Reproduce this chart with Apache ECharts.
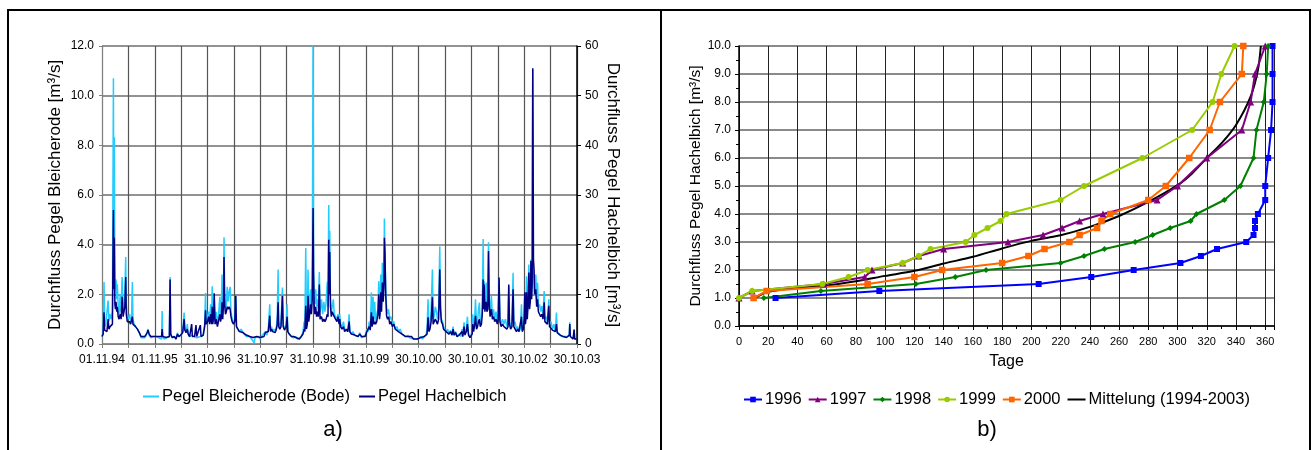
<!DOCTYPE html>
<html>
<head>
<meta charset="utf-8">
<title>Durchfluss Bleicherode / Hachelbich</title>
<script src="https://cdn.jsdelivr.net/npm/echarts@6/dist/echarts.min.js"></script>
<style>
  html, body { margin: 0; padding: 0; background: #fff; }
  #chart { width: 1314px; height: 450px; }
</style>
</head>
<body>
<div id="chart"></div>
<script>
// a) daily discharge, x = days since 01.11.1994
const dateLabels = ['01.11.94', '01.11.95', '31.10.96', '31.10.97', '31.10.98',
  '31.10.99', '30.10.00', '30.10.01', '30.10.02', '30.10.03'];

const days = [
  0, 8, 14, 18, 26, 34, 42, 48, 56, 64,
  72, 79, 82, 85, 89, 93, 97, 102, 106, 112,
  118, 126, 132, 139, 146, 152, 158, 164, 168, 175,
  182, 190, 198, 204, 210, 214, 222, 232, 245, 258,
  270, 282, 295, 306, 313, 319, 326, 338, 352, 365,
  378, 392, 405, 412, 416, 420, 430, 445, 458, 466,
  471, 475, 485, 500, 512, 522, 530, 545, 558, 568,
  573, 582, 590, 596, 606, 620, 625, 640, 650, 655,
  668, 680, 685, 700, 710, 716, 720, 730, 738, 744,
  752, 758, 762, 766, 772, 776, 782, 790, 798, 805,
  815, 820, 826, 830, 835, 840, 844, 848, 854, 860,
  866, 872, 879, 886, 892, 900, 910, 918, 925, 930,
  940, 950, 962, 975, 988, 998, 1010, 1022, 1035, 1045,
  1052, 1058, 1070, 1082, 1095, 1108, 1120, 1130, 1140, 1150,
  1160, 1165, 1172, 1180, 1190, 1198, 1206, 1212, 1218, 1222,
  1230, 1238, 1248, 1253, 1262, 1274, 1280, 1285, 1295, 1310,
  1325, 1340, 1352, 1365, 1378, 1390, 1398, 1403, 1409, 1414,
  1420, 1425, 1430, 1436, 1442, 1448, 1454, 1460, 1463, 1467,
  1472, 1478, 1484, 1490, 1496, 1503, 1508, 1518, 1526, 1534,
  1542, 1550, 1558, 1563, 1568, 1572, 1575, 1580, 1586, 1592,
  1600, 1606, 1615, 1625, 1632, 1640, 1644, 1650, 1660, 1670,
  1678, 1690, 1700, 1709, 1714, 1725, 1735, 1748, 1760, 1771,
  1782, 1795, 1808, 1820, 1832, 1840, 1848, 1855, 1863, 1868,
  1875, 1880, 1886, 1892, 1900, 1908, 1914, 1919, 1923, 1928,
  1933, 1939, 1945, 1950, 1953, 1957, 1962, 1968, 1975, 1982,
  1990, 1998, 2008, 2018, 2028, 2040, 2050, 2062, 2075, 2088,
  2100, 2115, 2128, 2140, 2155, 2168, 2180, 2192, 2205, 2215,
  2228, 2240, 2248, 2255, 2260, 2268, 2276, 2285, 2290, 2297,
  2305, 2313, 2320, 2328, 2336, 2341, 2347, 2355, 2362, 2370,
  2380, 2390, 2400, 2410, 2420, 2428, 2435, 2445, 2455, 2470,
  2482, 2490, 2495, 2504, 2510, 2520, 2527, 2535, 2545, 2552,
  2560, 2564, 2570, 2578, 2583, 2590, 2597, 2604, 2610, 2616,
  2624, 2630, 2636, 2640, 2643, 2648, 2657, 2662, 2668, 2673,
  2678, 2684, 2693, 2700, 2708, 2716, 2725, 2734, 2740, 2746,
  2752, 2760, 2770, 2780, 2790, 2800, 2808, 2813, 2818, 2826,
  2835, 2843, 2848, 2856, 2866, 2875, 2884, 2893, 2901, 2906,
  2914, 2920, 2924, 2928, 2932, 2936, 2941, 2946, 2952, 2957,
  2962, 2966, 2971, 2975, 2979, 2981, 2984, 2988, 2992, 3000,
  3006, 3012, 3018, 3026, 3034, 3042, 3050, 3058, 3063, 3072,
  3080, 3090, 3095, 3105, 3115, 3125, 3135, 3143, 3148, 3158,
  3170, 3180, 3190, 3200, 3212, 3224, 3232, 3235, 3239, 3248,
  3258, 3265, 3269, 3278, 3285
];

// Pegel Bleicherode (Bode), m³/s, left axis
const bleicherode = [
  0.30, 0.45, 2.50, 0.70, 0.80, 0.75, 1.75, 0.90, 1.20, 1.00,
  1.30, 10.70, 3.00, 8.33, 2.60, 2.20, 2.60, 1.80, 2.40, 1.50,
  1.20, 2.00, 1.30, 2.70, 1.40, 1.60, 2.00, 3.50, 1.60, 1.10,
  1.00, 1.20, 0.90, 1.00, 2.50, 1.00, 0.80, 0.70, 0.60, 0.45,
  0.25, 0.20, 0.25, 0.35, 0.50, 0.60, 0.35, 0.25, 0.30, 0.25,
  0.30, 0.25, 0.30, 0.20, 1.33, 0.30, 0.20, 0.25, 0.20, 0.30,
  2.70, 0.40, 0.25, 0.30, 0.20, 0.45, 0.30, 0.35, 0.50, 1.27,
  0.60, 0.45, 0.80, 0.40, 0.30, 0.35, 0.30, 0.30, 0.30, 0.25,
  0.30, 0.30, 0.30, 0.35, 0.80, 2.05, 0.90, 1.10, 1.30, 1.00,
  1.60, 0.90, 2.33, 1.00, 1.30, 1.80, 0.90, 1.30, 0.80, 1.10,
  1.90, 1.00, 1.40, 2.80, 1.20, 2.00, 4.30, 2.00, 1.40, 1.60,
  2.30, 1.70, 2.10, 2.30, 1.30, 1.00, 0.80, 1.00, 1.96, 0.70,
  0.60, 0.50, 0.60, 0.45, 0.50, 0.30, 0.25, 0.30, 0.20, 0.25,
  0.05, 0.25, 0.20, 0.30, 0.20, 0.35, 0.30, 0.50, 0.35, 0.60,
  1.60, 0.60, 0.70, 0.50, 0.60, 0.50, 0.70, 1.10, 3.00, 0.90,
  0.70, 0.90, 2.27, 0.80, 0.60, 0.80, 1.60, 0.50, 0.40, 0.30,
  0.25, 0.30, 0.20, 0.25, 0.30, 0.50, 0.90, 0.60, 3.87, 0.80,
  1.00, 3.00, 1.20, 1.50, 2.20, 1.60, 2.40, 13.00, 2.90, 2.00,
  1.60, 2.20, 1.50, 1.80, 1.40, 2.90, 1.30, 1.80, 1.20, 1.70,
  1.30, 1.70, 2.50, 1.50, 5.60, 2.50, 4.56, 1.80, 1.30, 1.50,
  1.80, 1.20, 1.20, 1.00, 1.20, 0.90, 1.20, 0.80, 0.70, 0.90,
  0.60, 0.60, 0.50, 1.20, 0.50, 0.40, 0.50, 0.35, 0.40, 0.30,
  0.45, 0.25, 0.30, 0.35, 0.60, 0.50, 0.90, 0.60, 2.07, 0.90,
  1.90, 1.00, 1.70, 0.90, 1.20, 1.40, 2.53, 1.30, 1.60, 2.80,
  1.60, 3.27, 2.00, 2.80, 5.05, 3.60, 2.20, 1.50, 1.20, 1.40,
  1.00, 1.10, 0.80, 0.90, 0.60, 0.70, 0.50, 0.60, 0.40, 0.45,
  0.30, 0.35, 0.25, 0.30, 0.20, 0.25, 0.20, 0.25, 0.30, 0.20,
  0.25, 0.35, 0.60, 1.80, 0.70, 0.80, 1.30, 3.00, 1.00, 1.10,
  1.50, 1.30, 1.00, 1.40, 3.93, 1.60, 1.00, 0.90, 0.70, 0.60,
  0.50, 0.60, 0.40, 0.55, 0.35, 0.70, 0.35, 0.50, 0.30, 0.40,
  0.30, 0.60, 0.35, 0.87, 0.40, 0.60, 1.10, 0.40, 0.25, 0.20,
  0.50, 1.20, 0.60, 1.10, 1.80, 0.80, 0.90, 1.40, 1.67, 0.80,
  1.00, 1.50, 4.23, 1.60, 2.53, 1.50, 2.47, 1.40, 1.60, 4.10,
  1.80, 1.30, 1.93, 1.10, 1.40, 1.00, 1.30, 0.90, 1.20, 2.60,
  1.00, 0.80, 1.00, 0.80, 1.00, 0.70, 0.90, 2.33, 0.90, 0.70,
  0.90, 2.87, 0.80, 0.90, 0.60, 0.70, 0.50, 0.60, 1.60, 0.60,
  0.70, 1.30, 2.07, 1.00, 1.40, 2.73, 1.20, 1.80, 3.20, 1.60,
  1.90, 3.40, 2.00, 2.60, 11.05, 3.40, 3.00, 2.60, 2.00, 2.80,
  1.80, 2.47, 1.50, 1.60, 1.30, 1.53, 1.10, 2.13, 1.00, 1.10,
  0.90, 1.80, 0.80, 0.90, 0.60, 0.80, 0.50, 1.27, 0.50, 0.40,
  0.35, 0.30, 0.35, 0.30, 0.25, 0.30, 0.40, 0.87, 0.30, 0.25,
  0.20, 0.57, 0.20, 0.20, 0.20
];

// Pegel Hachelbich, m³/s, right axis
const hachelbich = [
  1.5, 2.0, 6.4, 2.8, 3.0, 2.5, 5.0, 3.0, 3.5, 3.3,
  4.0, 27.0, 11.0, 21.4, 8.0, 7.0, 8.5, 6.5, 7.5, 5.5,
  5.0, 6.0, 5.0, 9.5, 5.5, 6.5, 7.5, 13.5, 6.0, 4.5,
  4.5, 4.5, 4.0, 4.0, 5.5, 4.0, 3.8, 3.5, 3.0, 2.3,
  1.5, 1.5, 1.5, 1.8, 2.3, 2.8, 2.0, 1.5, 1.5, 1.3,
  1.5, 1.5, 1.5, 1.5, 3.0, 1.5, 1.3, 1.3, 1.3, 1.5,
  13.0, 2.0, 1.3, 1.5, 1.0, 2.0, 1.5, 1.8, 2.3, 5.0,
  2.8, 2.3, 3.0, 2.0, 1.5, 4.0, 1.5, 1.5, 3.8, 1.5,
  1.5, 3.8, 1.5, 1.8, 3.5, 6.8, 4.0, 4.5, 5.5, 4.0,
  6.0, 4.0, 7.5, 4.0, 5.5, 10.2, 4.0, 5.0, 3.5, 4.5,
  6.0, 4.5, 5.5, 8.4, 5.0, 8.0, 17.5, 8.0, 6.0, 6.5,
  7.5, 7.0, 7.5, 7.0, 5.5, 4.5, 4.0, 4.5, 9.7, 3.5,
  3.0, 2.5, 2.8, 2.3, 2.5, 1.8, 1.5, 1.5, 1.3, 1.3,
  1.3, 1.3, 1.5, 1.5, 1.3, 1.5, 1.5, 2.3, 2.0, 2.5,
  5.7, 2.5, 3.0, 2.5, 2.8, 2.3, 3.0, 4.0, 8.4, 3.5,
  3.0, 3.5, 9.7, 3.5, 2.8, 3.5, 5.5, 2.5, 2.0, 1.5,
  1.5, 1.3, 1.0, 1.0, 1.5, 2.0, 3.0, 2.5, 7.7, 3.0,
  4.0, 9.7, 4.5, 6.0, 8.0, 6.0, 9.0, 27.4, 14.4, 8.0,
  6.0, 7.5, 5.5, 6.5, 5.5, 12.0, 5.0, 5.5, 4.5, 5.0,
  4.5, 5.0, 6.0, 5.5, 21.0, 10.0, 18.5, 7.5, 5.5, 6.5,
  6.5, 5.5, 5.0, 4.5, 5.5, 4.0, 5.0, 3.5, 3.0, 3.5,
  2.5, 3.0, 2.5, 4.5, 2.5, 2.0, 2.3, 1.8, 2.0, 1.5,
  2.0, 1.5, 1.5, 1.5, 2.5, 2.5, 3.5, 2.8, 6.4, 3.5,
  5.5, 4.0, 4.5, 4.0, 4.5, 6.0, 10.0, 5.0, 6.0, 10.4,
  6.5, 12.4, 8.5, 12.0, 21.4, 18.4, 10.0, 5.7, 5.0, 5.5,
  4.0, 4.5, 3.5, 4.0, 3.0, 3.0, 2.5, 2.5, 2.0, 2.0,
  1.5, 1.5, 1.3, 1.5, 1.0, 1.3, 1.0, 1.3, 1.3, 1.0,
  1.5, 1.5, 2.0, 5.4, 2.5, 3.0, 4.5, 9.4, 4.0, 4.0,
  5.0, 4.5, 4.0, 5.0, 15.0, 7.0, 4.5, 4.0, 3.0, 2.8,
  2.5, 2.5, 2.0, 2.5, 1.8, 3.0, 1.8, 2.3, 1.5, 1.8,
  1.5, 2.5, 1.5, 3.5, 1.8, 2.5, 4.0, 1.8, 1.3, 1.0,
  2.0, 4.0, 2.5, 4.0, 5.7, 3.0, 3.5, 4.5, 5.0, 3.5,
  4.0, 6.0, 13.0, 7.0, 12.0, 6.5, 8.5, 6.5, 7.0, 18.7,
  8.0, 5.5, 7.0, 5.0, 5.5, 4.5, 5.0, 4.0, 5.0, 13.4,
  4.5, 3.5, 4.0, 3.5, 3.5, 3.0, 3.5, 12.0, 4.0, 3.0,
  3.5, 11.0, 3.5, 3.5, 2.5, 3.0, 2.5, 2.8, 5.5, 2.5,
  3.0, 5.0, 10.4, 4.0, 5.0, 10.4, 5.0, 7.5, 14.4, 7.0,
  8.5, 16.7, 9.0, 12.0, 55.5, 43.7, 17.0, 15.0, 10.0, 11.0,
  7.5, 9.0, 6.5, 6.5, 5.5, 6.0, 5.0, 8.4, 4.5, 4.5,
  4.0, 7.7, 3.5, 3.5, 2.8, 3.0, 2.5, 4.0, 2.3, 2.0,
  1.8, 1.5, 1.5, 1.5, 1.3, 1.5, 1.8, 4.0, 1.5, 1.3,
  1.0, 2.9, 1.0, 1.0, 1.0
];

// b) duration curves Hachelbich: days on which each discharge level is reached
const levels = [1.0, 1.25, 1.5, 1.75, 2.0, 2.25, 2.5, 2.75, 3.0, 3.25,
  3.5, 3.75, 4.0, 4.5, 5.0, 6.0, 7.0, 8.0, 9.0, 10.0];
const days1996 = [25, 96, 205, 241, 270, 302, 316, 327, 347, 352,
  353, 353, 355, 360, 360, 362, 364, 365, 365, 365];
const days1997 = [0, 9, 58, 86, 91, 112, 123, 140, 184, 208,
  221, 233, 249, 286, 300, 320, 344, 350, 353, 360];
const days1998 = [17, 56, 121, 148, 169, 220, 236, 250, 271, 283,
  295, 309, 313, 332, 343, 352, 354, 359, 361, 362];
const days1999 = [0, 9, 57, 75, 88, 112, 123, 131, 155, 161,
  170, 179, 183, 220, 236, 276, 310, 324, 330, 339];
const days2000 = [10, 19, 88, 120, 139, 180, 198, 209, 226, 233,
  245, 248, 254, 280, 292, 308, 322, 329, 344, 345];
const meanDays = [11, 20, 40, 60, 80, 100, 120, 140, 160, 180, 200, 220,
  240, 260, 280, 300, 310, 320, 330, 340, 350, 355, 357];
const meanLevels = [1.0, 1.22, 1.36, 1.45, 1.6, 1.79, 1.97, 2.23, 2.47, 2.77, 3.04, 3.24,
  3.54, 3.93, 4.43, 5.03, 5.45, 6.0, 6.52, 7.18, 8.19, 9.14, 10.0];

const font = "'Liberation Sans', Arial, sans-serif";
const pair = (xs, ys) => xs.map((x, i) => [x, ys[i]]);

const chart = echarts.init(document.getElementById('chart'), null, { renderer: 'canvas' });

function durationSeries(name, xs, ys, color, symbol, size) {
  return {
    name, type: 'line', xAxisIndex: 1, yAxisIndex: 2,
    data: pair(xs, ys),
    symbol, symbolSize: size, showSymbol: symbol !== 'none',
    itemStyle: { color },
    lineStyle: { color, width: 2 }
  };
}

// legend entries of plain lines: hide the marker the legend would add
const lineOnly = name => ({ name, itemStyle: { opacity: 0 } });

const option = {
  animation: false,
  textStyle: { fontFamily: font, color: '#000' },
  grid: [
    { left: 102, top: 46, width: 475, height: 298 },
    { left: 739, top: 46, width: 535, height: 280 }
  ],
  xAxis: [
    {
      gridIndex: 0, type: 'value', min: 0, max: 3285, interval: 182.5,
      axisLine: { lineStyle: { color: '#808080', width: 1 } },
      axisTick: { length: 4, lineStyle: { color: '#808080' } },
      axisLabel: {
        color: '#000', fontSize: 12, margin: 10,
        formatter: v => (v % 365 === 0 ? dateLabels[v / 365] : '')
      },
      splitLine: { show: true, lineStyle: { color: '#555', width: 1.2 } }
    },
    {
      gridIndex: 1, type: 'value', min: 0, max: 366, interval: 20,
      name: 'Tage', nameLocation: 'middle', nameGap: 28,
      nameTextStyle: { fontSize: 16, color: '#000' },
      axisLine: { lineStyle: { color: '#000', width: 1.5 } },
      axisTick: { length: 4, lineStyle: { color: '#000' } },
      minorTick: { show: true, splitNumber: 2, length: 3, lineStyle: { color: '#000' } },
      axisLabel: {
        color: '#000', fontSize: 11, margin: 10,
        formatter: v => (v > 360 ? '' : String(v))
      },
      splitLine: { show: true, lineStyle: { color: '#222', width: 1 } }
    }
  ],
  yAxis: [
    {
      gridIndex: 0, type: 'value', min: 0, max: 12, interval: 2,
      name: 'Durchfluss Pegel Bleicherode [m³/s]', nameLocation: 'middle', nameGap: 38,
      nameTextStyle: { fontSize: 17, color: '#000' },
      axisLine: { show: true, lineStyle: { color: '#808080' } },
      axisTick: { show: true, length: 3, lineStyle: { color: '#808080' } },
      axisLabel: { color: '#000', fontSize: 12, margin: 8, formatter: v => v.toFixed(1) },
      splitLine: { show: true, lineStyle: { color: '#6e6e6e', width: 1.5 } }
    },
    {
      gridIndex: 0, type: 'value', min: 0, max: 60, interval: 10, position: 'right',
      name: 'Durchfluss Pegel Hachelbich [m³/s]', nameLocation: 'middle', nameGap: 27,
      nameRotate: -90,
      nameTextStyle: { fontSize: 17, color: '#000' },
      axisLine: { show: true, lineStyle: { color: '#000', width: 1.5 } },
      axisTick: { show: true, length: 4, lineStyle: { color: '#000' } },
      axisLabel: { color: '#000', fontSize: 12, margin: 8 },
      splitLine: { show: false }
    },
    {
      gridIndex: 1, type: 'value', min: 0, max: 10, interval: 1,
      name: 'Durchfluss Pegel Hachelbich [m³/s]', nameLocation: 'middle', nameGap: 34,
      nameTextStyle: { fontSize: 15.5, color: '#000' },
      axisLine: { show: true, lineStyle: { color: '#000', width: 1.5 } },
      axisTick: { show: true, length: 4, lineStyle: { color: '#000' } },
      minorTick: { show: true, splitNumber: 2, length: 3, lineStyle: { color: '#000' } },
      axisLabel: { color: '#000', fontSize: 12, margin: 8, formatter: v => v.toFixed(1) },
      splitLine: { show: true, lineStyle: { color: '#8a8a8a', width: 2 } }
    }
  ],
  legend: [
    {
      data: [lineOnly('Pegel Bleicherode (Bode)'), lineOnly('Pegel Hachelbich')],
      left: 137, top: 383, itemWidth: 16, itemHeight: 10, itemGap: 8,
      textStyle: { fontSize: 16.5, color: '#000', padding: [0, 0, 0, -2] }
    },
    {
      data: ['1996', '1997', '1998', '1999', '2000', lineOnly('Mittelung (1994-2003)')],
      left: 738, top: 386, itemWidth: 18, itemHeight: 7, itemGap: 6,
      textStyle: { fontSize: 16.5, color: '#000', padding: [0, 0, 0, -2] }
    }
  ],
  series: [
    {
      name: 'Pegel Bleicherode (Bode)', type: 'line', xAxisIndex: 0, yAxisIndex: 0,
      data: pair(days, bleicherode), symbol: 'none', showSymbol: false,
      itemStyle: { color: '#22ccff' }, lineStyle: { color: '#22ccff', width: 1.5 }
    },
    {
      name: 'Pegel Hachelbich', type: 'line', xAxisIndex: 0, yAxisIndex: 1,
      data: pair(days, hachelbich), symbol: 'none', showSymbol: false,
      itemStyle: { color: '#000080' }, lineStyle: { color: '#000080', width: 1.5 }
    },
    durationSeries('Mittelung (1994-2003)', meanDays, meanLevels, '#000000', 'none', 0),
    durationSeries('1996', days1996, levels, '#0000ff', 'rect', 6),
    durationSeries('1997', days1997, levels, '#800080', 'triangle', 7),
    durationSeries('1998', days1998, levels, '#008000', 'diamond', 6),
    durationSeries('1999', days1999, levels, '#99cc00', 'circle', 6),
    durationSeries('2000', days2000, levels, '#ff6600', 'rect', 6.5)
  ],
  graphic: [
    { type: 'rect', silent: true, shape: { x: 8, y: 10, width: 1302, height: 460 },
      style: { fill: 'none', stroke: '#000', lineWidth: 2 } },
    { type: 'line', silent: true, shape: { x1: 661, y1: 10, x2: 661, y2: 450 },
      style: { stroke: '#000', lineWidth: 2 } },
    { type: 'text', silent: true, x: 333, y: 430,
      style: { text: 'a)', fontSize: 22, fontFamily: font, fill: '#000', textAlign: 'center', textVerticalAlign: 'middle' } },
    { type: 'text', silent: true, x: 987, y: 430,
      style: { text: 'b)', fontSize: 22, fontFamily: font, fill: '#000', textAlign: 'center', textVerticalAlign: 'middle' } }
  ]
};

// the mean curve is smooth in the reference
option.series[2].smooth = 0.3;

chart.setOption(option);
</script>
</body>
</html>
